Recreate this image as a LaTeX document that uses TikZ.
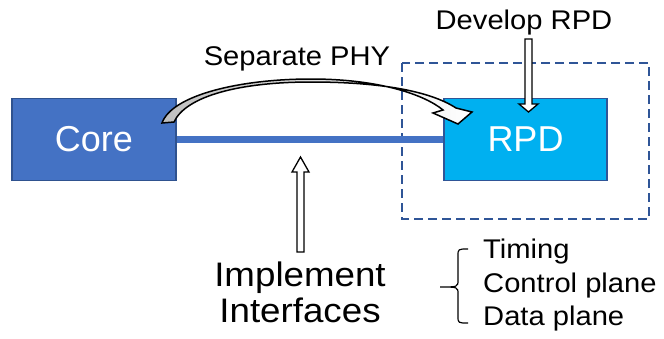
\documentclass[tikz,border=0pt]{standalone}
\usepackage{fontspec}
\setmainfont{Liberation Sans}
\newfontfamily\widefont{Liberation Sans}[FakeStretch=1.08]
\definecolor{coreblue}{HTML}{4472C4}
\definecolor{coreedge}{HTML}{2F528F}
\definecolor{rpdblue}{HTML}{00B0F0}
\definecolor{dashblue}{HTML}{2F5597}
\tikzset{
  bigbox/.style={draw, line width=1.5pt, minimum width=164pt, minimum height=82pt, inner sep=0pt, text=white, font=\fontsize{36}{40}\selectfont},
  smalltxt/.style={anchor=base, inner sep=0pt, font=\widefont\fontsize{27}{32}\selectfont},
  bigtxt/.style={anchor=base, inner sep=0pt, font=\widefont\fontsize{34}{38}\selectfont},
  hollow/.style={draw=black, fill=white, line width=1.3pt, line join=miter},
}
\begin{document}
\begin{tikzpicture}[x=1pt,y=-1pt]
\useasboundingbox (0,0) rectangle (664,338);
% dashed region
\draw[dashblue, line width=2.2pt, dash pattern=on 9pt off 5pt] (402,63) rectangle (649,219);
% boxes
\node[bigbox, fill=coreblue, draw=coreedge] (core) at (94,139.5) {Core};
\node[bigbox, fill=rpdblue, draw=dashblue, minimum width=163pt] (rpd) at (525.5,139.5) {RPD};
% link
\draw[coreblue, line width=7pt] (core.east) -- (rpd.west);
% texts
\node[smalltxt] (sep) at (297,65) {Separate PHY};
\node[smalltxt] (dev) at (524,29) {Develop RPD};
\node[bigtxt] (impl1) at (300,286) {Implement};
\node[bigtxt] (impl2) at (300,322) {Interfaces};
\node[smalltxt, anchor=base west] (t1) at (483,258) {Timing};
\node[smalltxt, anchor=base west] (t2) at (483,292) {Control plane};
\node[smalltxt, anchor=base west] (t3) at (483,325) {Data plane};
% brace
\draw[black, line width=1.2pt] (468,249) .. controls (458,249) .. (458,256) -- (458,280) .. controls (458,287) .. (440,287)
  .. controls (458,287) .. (458,294) -- (458,316) .. controls (458,323) .. (468,323);
% curved block arrow
\path[draw=black, line width=1.5pt, line join=miter, left color=black!25, right color=white]
  (162,123) .. controls (172,95) and (240,79) .. (311,79) .. controls (380,79) and (425,95) .. (443,110)
  -- (433,113) -- (458,124) -- (472,112) -- (456,108)
  .. controls (430,91) and (380,82) .. (311,82) .. controls (240,82) and (186,96) .. (174,122) -- cycle;
% develop arrow
\draw[hollow] (525,39) -- (532,39) -- (532,104) -- (538,104) -- (528.5,112) -- (519,104) -- (525,104) -- cycle;
% implement arrow
\draw[hollow] (297,252) -- (304,252) -- (304,172) -- (309,172) -- (300.5,157) -- (292,172) -- (297,172) -- cycle;
\end{tikzpicture}
\end{document}
